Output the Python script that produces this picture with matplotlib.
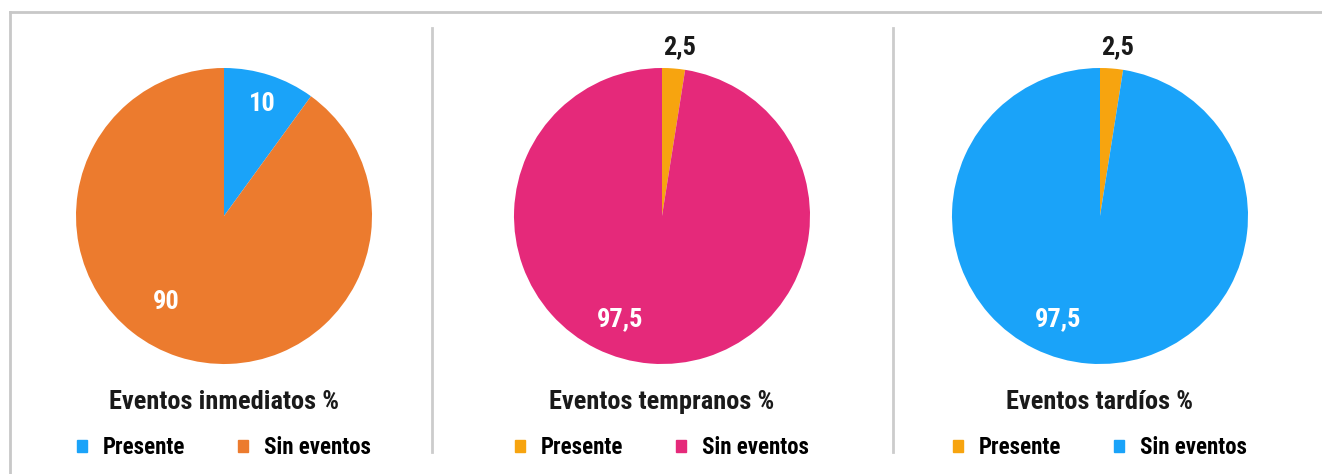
import matplotlib
matplotlib.use("Agg")
import matplotlib.pyplot as plt
from matplotlib.lines import Line2D
from matplotlib.patches import Patch

titles = ["Eventos inmediatos %", "Eventos tempranos %", "Eventos tardíos %"]
categories = ["Presente", "Sin eventos"]
values = [[10, 90], [2.5, 97.5], [2.5, 97.5]]
colors = [["#1aa3f9", "#ec7b2e"], ["#f7a40f", "#e5297a"], ["#f7a40f", "#1aa3f9"]]

plt.rcParams["font.family"] = ["Roboto Condensed", "DejaVu Sans"]
plt.rcParams["font.weight"] = "bold"

W, H = 1322, 474
fig = plt.figure(figsize=(W / 100, H / 100), dpi=100)

centers_x = [224, 662, 1100]
cy, R = 216, 148
# label offsets (x, y) in radius units, relative to the pie centre
lab_pos = [[(0.26, 0.76), (-0.39, -0.58)],
           [(0.12, 1.14), (-0.28, -0.70)],
           [(0.12, 1.14), (-0.28, -0.70)]]

def fmt(v):
    return f"{v:g}".replace(".", ",")

for i, cx in enumerate(centers_x):
    ax = fig.add_axes([(cx - R) / W, (H - cy - R) / H, 2 * R / W, 2 * R / H])
    ax.pie(values[i], colors=colors[i], startangle=90, counterclock=False,
           radius=1, wedgeprops=dict(linewidth=0))
    ax.set_xlim(-1, 1); ax.set_ylim(-1, 1)
    ax.set_aspect("equal"); ax.axis("off")
    for j, v in enumerate(values[i]):
        lx, ly = lab_pos[i][j]
        outside = (lx * lx + ly * ly) > 1
        ax.text(lx, ly, fmt(v), ha="center", va="center", fontsize=19,
                fontweight="bold", color="#1a1a1a" if outside else "white",
                clip_on=False)
    fig.text(cx / W, 1 - 402 / H, titles[i], ha="center", va="center",
             fontsize=19, fontweight="bold", color="#1a1a1a")
    handles = [Patch(color=c) for c in colors[i]]
    fig.legend(handles, categories, loc="center", ncol=2,
               bbox_to_anchor=(cx / W, 1 - 448 / H), frameon=False,
               fontsize=16.5, handlelength=0.42, handleheight=0.42,
               handletextpad=0.7, columnspacing=2.3)

# frame and dividers
grey = "#c8c8c8"
fig.add_artist(Line2D([10 / W, 1], [1 - 12 / H, 1 - 12 / H], color=grey, lw=2))
fig.add_artist(Line2D([10 / W, 10 / W], [0, 1 - 12 / H], color=grey, lw=2))
for x in [432, 893]:
    fig.add_artist(Line2D([x / W, x / W], [1 - 28 / H, 1 - 452 / H], color="#cccccc", lw=2))

fig.savefig("out.png", dpi=100)
